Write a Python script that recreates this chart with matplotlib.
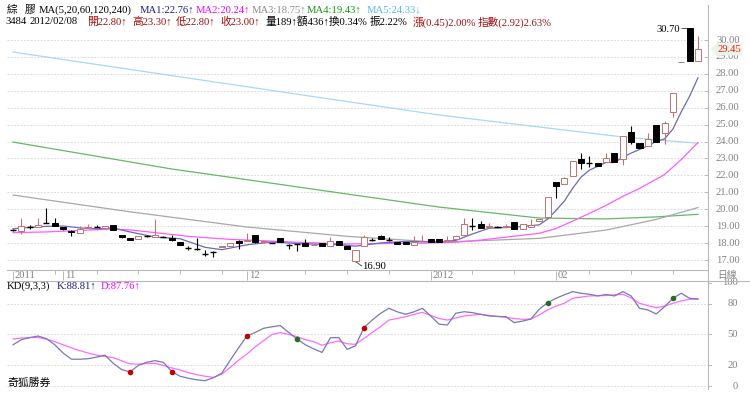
import matplotlib
matplotlib.use('Agg')
import matplotlib.pyplot as plt
from matplotlib.transforms import blended_transform_factory

plt.rcParams['font.family'] = ['Liberation Serif', 'Noto Sans CJK TC', 'DejaVu Sans']

# daily candles (index 0 .. 82)
opens = [18.79, 18.70, 18.95, 18.95, 19.20, 19.20, 18.95, 18.72, 18.60, 18.88,
         18.95, 18.90, 19.06, 18.47, 18.30, 18.24, 18.40, 18.36, 18.42, 18.30,
         18.07, 17.70, 17.65, 17.35, 17.50, 17.77, 17.83, 18.10, 18.15, 18.45,
         18.07, 18.00, 18.30, 17.90, 17.95, 18.00, 17.86, 17.98, 17.83, 18.10,
         17.83, 16.95, 17.85, 18.20, 18.40, 18.20, 18.07, 18.07, 17.90, 18.10,
         18.24, 18.24, 18.13, 18.24, 18.45, 19.00, 19.12, 18.95, 18.97, 18.95,
         19.24, 18.83, 18.98, 19.30, 19.54, 21.60, 21.50, 21.96, 22.97, 22.73,
         22.73, 22.80, 23.30, 22.97, 24.56, 23.90, 23.73, 24.97, 24.50, 25.74,
         28.68, 30.70, 28.75]
highs = [18.82, 19.48, 19.05, 19.50, 20.05, 19.50, 18.97, 18.75, 19.00, 19.10,
         19.05, 19.00, 19.06, 18.50, 18.30, 18.40, 18.45, 19.40, 18.42, 18.50,
         18.07, 17.80, 18.30, 17.60, 17.55, 17.85, 18.00, 18.20, 18.60, 18.45,
         18.10, 18.02, 18.30, 17.95, 17.97, 18.25, 17.95, 17.98, 18.35, 18.10,
         17.83, 17.60, 18.45, 18.30, 18.45, 18.35, 18.07, 18.07, 18.40, 18.45,
         18.24, 18.24, 18.40, 18.40, 19.48, 19.48, 19.30, 19.20, 19.00, 19.10,
         19.24, 19.10, 19.45, 19.40, 20.70, 21.60, 21.90, 22.85, 23.30, 23.14,
         22.73, 23.30, 23.30, 24.30, 24.90, 23.90, 24.50, 24.97, 25.20, 26.86,
         28.70, 30.70, 30.25]
lows = [18.72, 18.53, 18.85, 18.95, 19.18, 19.00, 18.80, 18.40, 18.60, 18.88,
        18.95, 18.90, 18.77, 18.30, 18.20, 18.24, 18.35, 18.36, 18.38, 18.15,
        17.88, 17.60, 17.60, 17.25, 17.18, 17.77, 17.83, 17.65, 18.15, 18.00,
        18.05, 17.98, 18.05, 17.65, 17.55, 17.83, 17.86, 17.85, 17.83, 17.90,
        17.65, 16.90, 17.85, 18.15, 18.24, 18.10, 17.95, 17.95, 17.90, 18.10,
        18.07, 18.07, 18.13, 18.24, 18.45, 18.75, 18.90, 18.95, 18.95, 18.95,
        18.83, 18.83, 18.98, 19.30, 19.54, 20.65, 21.50, 21.96, 22.40, 22.50,
        22.55, 22.80, 22.80, 22.60, 23.85, 23.60, 23.73, 24.00, 23.85, 25.45,
        28.68, 28.75, 28.75]
closes = [18.76, 19.00, 18.95, 19.06, 19.20, 19.00, 18.83, 18.65, 18.83, 18.92,
          18.95, 19.00, 18.77, 18.36, 18.20, 18.40, 18.40, 18.45, 18.38, 18.18,
          17.88, 17.70, 17.65, 17.35, 17.50, 17.83, 18.00, 18.00, 18.18, 18.05,
          18.09, 18.00, 18.05, 17.90, 17.95, 17.83, 17.88, 17.85, 18.10, 17.90,
          17.65, 17.60, 18.35, 18.20, 18.24, 18.18, 17.95, 17.95, 18.07, 18.12,
          18.07, 18.07, 18.15, 18.40, 19.10, 19.00, 18.90, 19.00, 18.97, 19.00,
          18.83, 19.10, 19.05, 19.40, 20.70, 21.40, 21.84, 22.85, 22.73, 22.73,
          22.55, 23.00, 22.80, 24.30, 23.97, 23.60, 24.15, 24.00, 25.10, 26.86,
          28.70, 28.75, 29.45]

# moving averages (index, value)
ma1_idx = [0, 2, 4, 6, 8, 10, 12, 14, 17, 20, 23, 25, 28, 31, 35, 39, 41, 44, 47, 51,
           53, 55, 57, 60, 63, 64, 65, 66, 67, 68, 69, 70, 71, 72, 73, 74, 75, 76, 77,
           78, 79, 80, 81, 82]
ma1_val = [18.85, 18.93, 18.99, 19.01, 18.90, 18.84, 18.89, 18.66, 18.36, 18.26, 17.75,
           17.61, 17.90, 18.06, 17.95, 17.91, 17.82, 18.01, 18.10, 18.06, 18.16, 18.54,
           18.88, 18.94, 19.08, 19.42, 19.93, 20.48, 21.24, 21.90, 22.31, 22.54, 22.77,
           22.76, 23.07, 23.32, 23.53, 23.76, 24.00, 24.16, 24.74, 25.76, 26.68, 27.77]
ma2_idx = [0, 4, 8, 12, 14, 17, 21, 26, 30, 34, 40, 44, 49, 53, 56, 60, 63, 65, 67, 69,
           71, 73, 75, 78, 80, 82]
ma2_val = [18.62, 18.66, 18.75, 18.83, 18.78, 18.62, 18.40, 18.22, 18.14, 18.05, 17.95,
           17.97, 18.00, 18.05, 18.18, 18.41, 18.58, 18.86, 19.30, 19.76, 20.23, 20.76,
           21.23, 22.05, 22.94, 23.94]
ma3_idx = [0, 14, 28, 40, 51, 63, 71, 77, 82]
ma3_val = [20.84, 19.85, 18.95, 18.40, 18.05, 18.28, 18.77, 19.40, 20.10]
ma4_idx = [0, 19, 28, 40, 51, 63, 71, 77, 82]
ma4_val = [23.97, 22.38, 21.75, 20.90, 20.13, 19.48, 19.43, 19.55, 19.70]
ma5_idx = [0, 34, 51, 73, 82]
ma5_val = [29.29, 26.80, 25.57, 24.27, 23.90]

# KD(9,3,3)
k_vals = [40, 45, 47, 48.5, 46, 40, 32, 26, 26, 26.5, 28, 30, 22, 16, 13.6, 20, 23, 24.6,
          23, 14, 9.5, 7.5, 6, 5.2, 8, 12.6, 25, 37, 48.5, 52, 56, 57.5, 58.6, 52, 45.6,
          40, 36, 32.6, 46.9, 46.9, 35.6, 39, 56.6, 64, 70.5, 75.4, 72, 69.6, 72, 75.4,
          68, 60, 59.2, 70.6, 72.1, 71.2, 69.5, 68, 67.5, 67.3, 61.5, 63, 65, 74.5, 80.9,
          85.1, 88.5, 91.6, 90, 89, 87.4, 88.8, 87.4, 91.6, 87.4, 75.4, 73.8, 69.9, 77,
          85.1, 90, 85.1, 84.5]
d_vals = [45.6, 46.5, 47, 47, 45.5, 43, 40, 37, 34.3, 32, 30, 28.5, 27.5, 24.5, 21.5,
          21.2, 21.8, 22, 20, 17.5, 15.5, 13, 11, 9.5, 8.4, 11.5, 18, 25, 31, 38, 44, 50,
          51.8, 50, 48, 45, 43, 39.5, 42, 43.7, 41, 40.5, 46, 52, 57.6, 64, 65.5, 67.3,
          69.5, 71.5, 68.5, 65.5, 64, 66, 68, 68.8, 69.6, 68.5, 67.5, 66.7, 65.5, 64.7,
          65, 69, 73.8, 77.5, 80.3, 85.1, 86.3, 87.4, 87.6, 87.8, 88.5, 89, 85.5, 80.3,
          78, 76, 77.5, 80.3, 82.5, 84.2, 84.2]
red_dots = [14, 19, 28, 42]
green_dots = [34, 64, 79]

price_ticks = list(range(17, 31))
kd_ticks = [100, 80, 50, 20, 0]
month_idx = [0, 6, 28, 50, 65]
month_lbl = ['2011', '11', '12', '2012', '02']
week_idx = [5, 10, 15, 20, 25, 35, 40, 45, 55, 60, 69, 74, 79]

W, H = 750, 397
fig = plt.figure(figsize=(7.5, 3.97), dpi=100)
fig.patch.set_facecolor('white')


def box(l, t, r, b):
    return fig.add_axes([l / W, 1 - b / H, (r - l) / W, (b - t) / H])


def px(x, y):
    return x / W, 1 - y / H


XL = (-0.72, 83.2)
up_col = '#c07272'
axis_col = '#b8b8b8'
lab_col = '#808080'

# ---- price panel
ax = box(7, 5, 708, 269)
ax.set_xlim(*XL)
ax.set_ylim(16.47, 32.07)
ax.axis('off')
ax.hlines(price_ticks, XL[0], XL[1], colors='#d4d4d4', linestyles=(0, (2, 2)), lw=0.6)
ax.plot(ma5_idx, ma5_val, color='#a8d8f4', lw=0.9)
ax.plot(ma4_idx, ma4_val, color='#66b866', lw=0.9)
ax.plot(ma3_idx, ma3_val, color='#a8a8a8', lw=0.9)
ax.plot(ma2_idx, ma2_val, color='#ff5cff', lw=0.9)
ax.plot(ma1_idx, ma1_val, color='#6a6ab4', lw=0.9)

for i in range(len(opens)):
    o, h, l, c = opens[i], highs[i], lows[i], closes[i]
    if c > o:
        col, face = up_col, 'white'
    else:
        col, face = 'black', 'black'
    ax.vlines(i, l, h, colors=col, lw=0.8, zorder=3)
    if abs(c - o) < 0.05:
        if c > o:
            ax.bar(i, 0.05, bottom=min(o, c), width=0.72, color='white', edgecolor=col,
                   lw=0.7, zorder=4)
        else:
            ax.hlines(c, i - 0.36, i + 0.36, colors=col, lw=1.0, zorder=4)
    else:
        ax.bar(i, abs(c - o), bottom=min(o, c), width=0.72, color=face, edgecolor=col,
               lw=0.7, zorder=4)

ax.hlines(30.70, 79.95, 80.7, colors='#555555', lw=0.7)
ax.text(79.9, 30.62, '30.70', ha='right', va='center', fontsize=7.6, color='black')
ax.plot([41.1, 41.75], [16.88, 16.65], color='#555555', lw=0.7)
ax.text(41.8, 16.62, '16.90', ha='left', va='center', fontsize=7.6, color='black')

# right axis line and price labels
fig.add_artist(plt.Line2D([708 / W, 708 / W], [1 - 5 / H, 1 - 389 / H], color=axis_col, lw=0.8))
tr = blended_transform_factory(fig.transFigure, ax.transData)
for p in price_ticks:
    ax.text(716 / W, p, '%.2f' % p, transform=tr, ha='left', va='center', fontsize=7.6,
            color=lab_col)
    ax.plot([705 / W, 708 / W], [p, p], transform=tr, color=axis_col, lw=0.7, clip_on=False)
ax.text(717 / W, closes[-1], '%.2f' % closes[-1], transform=tr, ha='left', va='center',
        fontsize=7.6, color='#ff1010',
        bbox=dict(boxstyle='larrow,pad=0.15', facecolor='#e8f5e8', edgecolor='none'))

# ---- date strip
axd = box(7, 269, 708, 281)
axd.set_xlim(*XL)
axd.set_ylim(0, 1)
axd.axis('off')
axd.axhline(0.92, color=axis_col, lw=0.8)
axd.vlines(week_idx, 0.62, 0.92, colors=axis_col, lw=0.7)
axd.vlines(month_idx, 0.05, 0.8, colors=axis_col, lw=0.7)
for m, s in zip(month_idx, month_lbl):
    axd.text(m + 0.2, 0.42, s, ha='left', va='center', fontsize=7.6, color=lab_col)
fig.text(*px(717, 275), '日線', ha='left', va='center', fontsize=7, color=lab_col)
fig.add_artist(plt.Line2D([7 / W, 1], [1 - 281 / H, 1 - 281 / H], color=axis_col, lw=0.8))

# ---- KD panel
axk = box(7, 281, 708, 389)
axk.set_xlim(*XL)
axk.set_ylim(-2.9, 101.9)
axk.axis('off')
axk.hlines([80, 50, 20, 0], XL[0], XL[1], colors='#d4d4d4', linestyles=(0, (2, 2)), lw=0.6)
xs = list(range(len(k_vals)))
axk.plot(xs, d_vals, color='#ff6cff', lw=0.9)
axk.plot(xs, k_vals, color='#7878b8', lw=0.9)
axk.scatter(red_dots, [k_vals[i] for i in red_dots], s=9, color='#c00000', zorder=5)
axk.scatter(green_dots, [k_vals[i] for i in green_dots], s=9, color='#207020', zorder=5)
trk = blended_transform_factory(fig.transFigure, axk.transData)
for v in kd_ticks:
    axk.text(738 / W, v, str(v), transform=trk, ha='right', va='center', fontsize=7.6,
             color=lab_col)
    axk.plot([708 / W, 711 / W], [v, v], transform=trk, color=axis_col, lw=0.7, clip_on=False)

# ---- header texts
fs = 7.7
red_txt = '#a01010'
line1 = [(7, '綜', 'black'), (25, '膠', 'black'), (39, 'MA(5,20,60,120,240)', 'black'),
         (140, 'MA1:22.76↑', '#1a1a8c'), (196, 'MA2:20.24↑', '#ff00ff'),
         (252, 'MA3:18.75↑', '#8a8a8a'), (307, 'MA4:19.43↑', '#119911'),
         (367, 'MA5:24.33↓', '#55b8ee')]
line2 = [(5, '3484', 'black'), (29, '2012/02/08', 'black'),
         (87, '開22.80↑', red_txt), (132, '高23.30↑', red_txt),
         (176, '低22.80↑', red_txt), (220, '收23.00↑', red_txt),
         (265, '量189↑額436↑換0.34%', 'black'),
         (370, '振2.22%', 'black'),
         (413, '漲(0.45)2.00%', red_txt), (478, '指數(2.92)2.63%', red_txt)]
for x, s, c in line1:
    fig.text(*px(x, 10), s, ha='left', va='center', fontsize=fs, color=c)
for x, s, c in line2:
    fig.text(*px(x, 22), s, ha='left', va='center', fontsize=fs, color=c)
fig.text(*px(7, 286), 'KD(9,3,3)', ha='left', va='center', fontsize=fs, color='black')
fig.text(*px(57, 286), 'K:88.81↑', ha='left', va='center', fontsize=fs, color='#1a1a8c')
fig.text(*px(101, 286), 'D:87.76↑', ha='left', va='center', fontsize=fs, color='#ff00ff')
fig.text(*px(7, 383), '奇狐勝券', ha='left', va='center', fontsize=7.8, color='black')

fig.savefig('out.png', dpi=100, facecolor='white')
